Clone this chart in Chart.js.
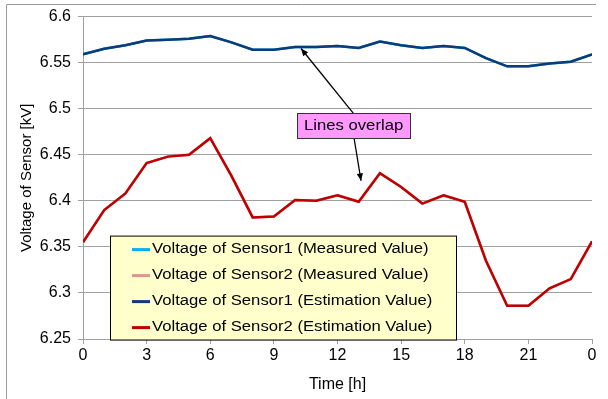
<!DOCTYPE html>
<html>
<head>
<meta charset="utf-8">
<script src="https://cdn.jsdelivr.net/npm/chart.js@4/dist/chart.umd.min.js"></script>
<style>
  html, body { margin: 0; padding: 0; background: #fff; }
  #wrap { width: 608px; height: 399px; position: relative; }
</style>
</head>
<body>
<div id="wrap"><canvas id="myChart"></canvas></div>
<script>
// hours of the day (24 = midnight of next day)
var hours = [0, 1, 2, 3, 4, 5, 6, 7, 8, 9, 10, 11, 12, 13, 14, 15, 16, 17, 18, 19, 20, 21, 22, 23, 24]

var sensor1 = [6.559, 6.565, 6.569, 6.574, 6.575, 6.576, 6.579, 6.572, 6.564, 6.564, 6.567, 6.567, 6.568,
  6.566, 6.573, 6.569, 6.566, 6.568, 6.566, 6.555, 6.546, 6.546, 6.549, 6.551, 6.559]

var sensor2 = [6.355, 6.390, 6.408, 6.441, 6.448, 6.450, 6.468, 6.427, 6.382, 6.383, 6.401, 6.400, 6.406,
  6.399, 6.430, 6.415, 6.397, 6.406, 6.399, 6.335, 6.286, 6.286, 6.305, 6.315, 6.356]

var seriesNames = [
  'Voltage of Sensor1 (Measured Value)',
  'Voltage of Sensor2 (Measured Value)',
  'Voltage of Sensor1 (Estimation Value)',
  'Voltage of Sensor2 (Estimation Value)'
]

var FONT = "'Liberation Sans', Arial, sans-serif"
var STRETCH = 1.19 // the original picture is a bit wider than tall

function pts (vals) {
  return hours.map(function (h, i) { return { x: h, y: vals[i] } })
}

function wideText (ctx, txt, x, y) {
  ctx.save()
  ctx.translate(x, y)
  ctx.scale(STRETCH, 1)
  ctx.fillText(txt, 0, 0)
  ctx.restore()
}

// yellow legend box inside the plot
var boxLegend = {
  id: 'boxLegend',
  afterDraw: function (chart) {
    var ctx = chart.ctx
    var a = chart.chartArea
    var x = a.left + 27, y = a.top + 219, w = 346, h = 104
    ctx.save()
    ctx.fillStyle = '#FFFFCC'
    ctx.fillRect(x, y, w, h)
    ctx.strokeStyle = '#000'
    ctx.lineWidth = 1
    ctx.strokeRect(x + 0.5, y + 0.5, w, h)
    ctx.font = '14px ' + FONT
    ctx.textBaseline = 'middle'
    chart.data.datasets.forEach(function (ds, i) {
      var ry = y + 14 + i * 26
      ctx.strokeStyle = ds.borderColor
      ctx.lineWidth = 3
      ctx.beginPath()
      ctx.moveTo(x + 22, ry)
      ctx.lineTo(x + 40, ry)
      ctx.stroke()
      ctx.fillStyle = '#000'
      wideText(ctx, ds.label, x + 42, ry)
    })
    ctx.restore()
  }
}

// "Lines overlap" callout with two arrows, placed in data units
var callout = {
  id: 'callout',
  afterDraw: function (chart, args, opts) {
    var ctx = chart.ctx
    var sx = chart.scales.x, sy = chart.scales.y
    var cx = sx.getPixelForValue(opts.at[0]), cy = sy.getPixelForValue(opts.at[1])
    ctx.save()
    ctx.strokeStyle = '#000'
    ctx.fillStyle = '#000'
    ctx.lineWidth = 1.3
    opts.arrows.forEach(function (ar) {
      var x0 = sx.getPixelForValue(ar[0]), y0 = sy.getPixelForValue(ar[1])
      var x1 = sx.getPixelForValue(ar[2]), y1 = sy.getPixelForValue(ar[3])
      var ang = Math.atan2(y1 - y0, x1 - x0)
      ctx.beginPath()
      ctx.moveTo(x0, y0)
      ctx.lineTo(x1, y1)
      ctx.stroke()
      ctx.beginPath()
      ctx.moveTo(x1, y1)
      ctx.lineTo(x1 - 8 * Math.cos(ang - 0.4), y1 - 8 * Math.sin(ang - 0.4))
      ctx.lineTo(x1 - 8 * Math.cos(ang + 0.4), y1 - 8 * Math.sin(ang + 0.4))
      ctx.closePath()
      ctx.fill()
    })
    var w = 113, h = 25
    ctx.fillStyle = '#FF99FF'
    ctx.fillRect(cx - w / 2, cy - h / 2, w, h)
    ctx.strokeStyle = '#333'
    ctx.lineWidth = 1
    ctx.strokeRect(Math.round(cx - w / 2) + 0.5, Math.round(cy - h / 2) + 0.5, w, h)
    ctx.fillStyle = '#000'
    ctx.font = '14px ' + FONT
    ctx.textAlign = 'center'
    ctx.textBaseline = 'middle'
    wideText(ctx, opts.text, cx, cy + 1)
    ctx.restore()
  }
}

// thin frame around the chart object (top and left edges visible)
var frame = {
  id: 'frame',
  beforeDraw: function (chart) {
    var ctx = chart.ctx
    ctx.save()
    ctx.strokeStyle = '#9a9a9a'
    ctx.lineWidth = 1
    ctx.beginPath()
    ctx.moveTo(6.5, chart.height)
    ctx.lineTo(6.5, 4.5)
    ctx.lineTo(chart.width - 12, 4.5)
    ctx.stroke()
    ctx.restore()
  }
}

var ctx = document.getElementById('myChart')
var myChart = new Chart(ctx, {
  type: 'line',
  data: {
    datasets: [
      { label: seriesNames[0], data: pts(sensor1), borderColor: '#00B0F0', order: 2 },
      { label: seriesNames[1], data: pts(sensor2), borderColor: '#D99694', order: 2 },
      { label: seriesNames[2], data: pts(sensor1), borderColor: '#0E3A7A', order: 1 },
      { label: seriesNames[3], data: pts(sensor2), borderColor: '#C00000', order: 1 }
    ]
  },
  options: {
    responsive: true,
    maintainAspectRatio: false,
    animation: false,
    layout: { padding: { left: 0, top: 15, right: 16, bottom: 0 } },
    elements: {
      point: { radius: 0 },
      line: { borderWidth: 2.5, tension: 0, fill: false }
    },
    scales: {
      x: {
        type: 'linear',
        min: 0,
        max: 24,
        afterFit: function (s) { s.height = 60 },
        afterBuildTicks: function (s) {
          s.ticks = [0, 3, 6, 9, 12, 15, 18, 21, 24].map(function (v) { return { value: v } })
        },
        ticks: {
          autoSkip: false,
          maxRotation: 0,
          padding: 2,
          color: '#000',
          font: { family: FONT, size: 16 },
          callback: function (v) { return String(v % 24) }
        },
        grid: {
          drawOnChartArea: false,
          tickLength: 5,
          color: '#a0a0a0'
        },
        border: { color: '#a0a0a0' },
        title: {
          display: true,
          text: 'Time [h]',
          color: '#000',
          font: { family: FONT, size: 16 },
          padding: { top: 0, bottom: 5 }
        }
      },
      y: {
        min: 6.25,
        max: 6.6,
        afterFit: function (s) { s.width = 83 },
        ticks: {
          stepSize: 0.05,
          padding: 7,
          color: '#000',
          font: { family: FONT, size: 16 },
          callback: function (v) { return String(Math.round(v * 100) / 100) }
        },
        grid: { color: '#a0a0a0', tickLength: 5 },
        border: { color: '#a0a0a0' },
        title: {
          display: true,
          text: 'Voltage of Sensor [kV]',
          color: '#000',
          font: { family: FONT, size: 15 },
          padding: { top: 18, bottom: 0 }
        }
      }
    },
    plugins: {
      legend: { display: false },
      tooltip: { enabled: false },
      callout: {
        text: 'Lines overlap',
        at: [12.76, 6.4817],
        arrows: [
          [12.74, 6.4952, 10.28, 6.5654],
          [12.78, 6.4682, 13.11, 6.4218]
        ]
      }
    }
  },
  plugins: [frame, boxLegend, callout]
})
</script>
</body>
</html>
